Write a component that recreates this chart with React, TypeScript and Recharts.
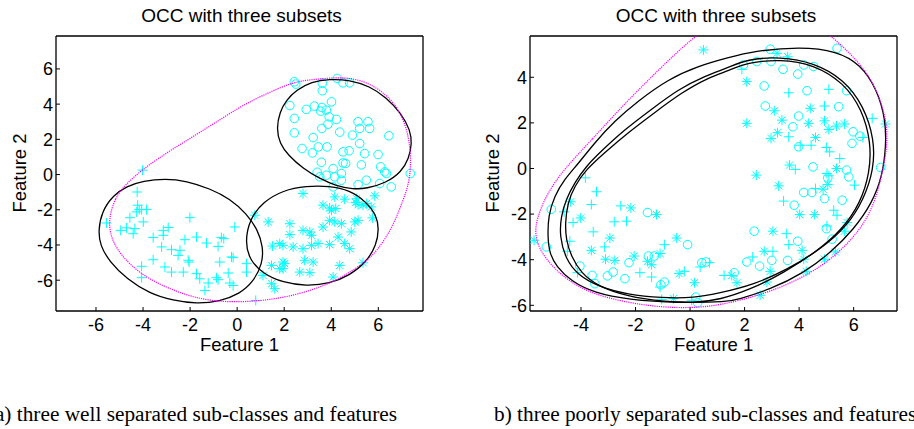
import { Scatter, ScatterChart, XAxis, YAxis } from "recharts";

type P = [number, number];

// ---------- panel a) well separated ----------
const aCircles: P[] = [
  [2.43, 5.27], [2.49, 5.14], [4.25, 5.46], [3.62, 5.18], [4.5, 5.21], [4.78, 5.21],
  [3.62, 4.76], [4.01, 4.13], [2.24, 3.92], [2.94, 3.7], [3.28, 3.89], [3.6, 3.81],
  [3.55, 3.6], [3.79, 3.66], [3.91, 3.28], [4.22, 3.13], [2.43, 3.19], [3.86, 2.86],
  [3.6, 2.62], [5.14, 3.0], [5.56, 3.0], [5.21, 2.62], [5.63, 2.62], [2.43, 2.37],
  [3.23, 2.1], [4.36, 2.41], [4.9, 2.24], [6.45, 2.2], [3.45, 1.57], [3.82, 1.57],
  [2.76, 1.48], [3.2, 1.23], [5.21, 1.76], [4.5, 1.29], [4.76, 1.35], [5.42, 1.19],
  [5.99, 1.14], [3.58, 0.7], [4.5, 0.66], [4.61, 0.63], [5.28, 0.55], [6.1, 0.44],
  [3.4, 0.13], [4.08, 0.34], [4.43, 0.06], [3.79, -0.04], [4.15, -0.13], [6.27, 0.15],
  [6.34, 0.06], [7.36, 0.06], [4.43, -0.32], [5.14, -0.57], [5.49, -0.32], [6.06, -0.51],
  [6.55, -0.7], [4.08, -0.7], [3.51, -0.13],
];

const aPluses: P[] = [
  [-4.02, 0.25], [-4.25, -0.99], [-5.55, -2.75], [-4.56, -2.45], [-4.23, -1.74], [-4.16, -1.99],
  [-4.06, -1.99], [-3.85, -1.99], [-4.27, -2.12], [-3.99, -2.69], [-4.35, -3.07], [-4.7, -3.03],
  [-4.95, -3.17], [-4.42, -3.36], [-3.57, -3.58], [-3.14, -3.17], [-2.93, -3.01], [-3.14, -3.45],
  [-3.21, -4.11], [-2.79, -4.27], [-2.43, -4.3], [-2.51, -4.59], [-2.22, -3.7], [-2.01, -2.45],
  [-1.73, -3.55], [-1.3, -3.89], [-0.81, -4.08], [-0.67, -3.58], [-0.57, -3.64], [-0.1, -2.98],
  [-0.24, -4.68], [-0.17, -4.72], [-2.08, -4.87], [-2.04, -4.97], [-3.57, -4.84], [-4.06, -5.21],
  [-3.07, -5.25], [-2.79, -5.54], [-2.29, -5.54], [-1.73, -5.63], [-1.59, -5.92], [-1.37, -6.58],
  [-1.23, -6.16], [-0.88, -5.86], [-0.81, -5.97], [-0.74, -4.97], [-0.38, -5.59], [-0.31, -6.16],
  [-0.17, -6.3], [0.4, -5.54], [0.4, -5.06], [-4.06, -5.86], [0.79, -7.15],
];

const aStars: P[] = [
  [2.8, -1.08], [4.15, -1.27], [4.57, -1.4], [5.07, -1.37], [5.04, -1.59], [5.14, -1.71],
  [5.35, -1.74], [5.49, -1.65], [5.7, -1.84], [5.85, -1.21], [3.65, -1.74], [3.93, -1.9],
  [4.01, -2.03], [4.19, -1.93], [5.75, -2.46], [5.14, -2.6], [5.0, -2.69], [4.85, -3.26],
  [3.93, -2.6], [4.15, -2.69], [4.43, -2.79], [3.65, -2.98], [2.8, -3.17], [3.09, -3.26],
  [3.16, -3.45], [2.24, -2.79], [1.32, -2.69], [2.24, -3.41], [1.5, -4.06], [1.81, -3.92],
  [1.95, -4.02], [2.38, -4.11], [2.8, -4.21], [3.16, -4.02], [3.44, -3.92], [3.93, -3.98],
  [4.29, -3.55], [4.57, -3.92], [4.78, -4.21], [2.87, -4.87], [3.23, -4.97], [4.36, -5.16],
  [5.35, -5.01], [1.46, -5.16], [1.95, -4.97], [2.02, -5.06], [1.81, -5.35], [2.66, -5.54],
  [3.09, -5.57], [4.08, -5.82], [1.46, -6.2], [1.6, -6.48], [1.1, -5.73], [1.95, -5.35],
  [0.75, -2.31],
];

// black class boundaries, outline points
const aBoundCircles: P[] = [
  [1.67, 2.62], [1.81, 3.56], [2.09, 4.23], [2.52, 4.8], [3.16, 5.27], [3.93, 5.42],
  [4.78, 5.37], [5.63, 5.02], [6.34, 4.38], [6.98, 3.47], [7.36, 2.52], [7.43, 1.76],
  [7.3, 0.91], [6.98, 0.15], [6.34, -0.47], [5.49, -0.8], [4.93, -0.83], [4.22, -0.66],
  [3.51, -0.23], [2.8, 0.34], [2.17, 1.1], [1.81, 1.76],
];
const aBoundPluses: P[] = [
  [-5.9, -3.17], [-5.76, -2.12], [-5.27, -1.18], [-4.7, -0.66], [-3.99, -0.36], [-3.07, -0.23],
  [-2.15, -0.36], [-1.16, -0.8], [-0.31, -1.37], [0.4, -2.22], [0.89, -3.17], [1.1, -4.11],
  [1.08, -5.06], [0.68, -6.11], [0.11, -6.77], [-0.74, -7.21], [-1.73, -7.34], [-2.72, -7.15],
  [-3.71, -6.77], [-4.7, -5.92], [-5.41, -4.97], [-5.83, -4.02],
];
const aBoundStars: P[] = [
  [0.33, -3.83], [0.54, -2.5], [1.1, -1.56], [1.95, -0.89], [2.94, -0.65], [3.93, -0.65],
  [4.78, -0.89], [5.49, -1.55], [5.92, -2.31], [6.03, -3.07], [5.92, -4.02], [5.49, -4.97],
  [4.78, -5.73], [3.93, -6.2], [2.94, -6.33], [1.95, -6.14], [1.1, -5.63], [0.54, -4.87],
];
const aOcc: P[] = [
  [-5.55, -2.88], [-5.19, -1.27], [-4.7, -0.51], [-3.99, 0.34], [-2.72, 1.48], [-1.3, 2.62],
  [0.11, 3.85], [1.1, 4.51], [2.38, 5.27], [3.23, 5.4], [4.22, 5.52], [4.93, 5.46],
  [5.63, 5.18], [6.48, 4.42], [7.05, 3.28], [7.33, 1.95], [7.4, 0.44], [7.26, -0.7],
  [7.05, -1.46], [6.62, -2.98], [5.92, -4.4], [5.35, -5.06], [4.64, -5.67], [3.93, -6.2],
  [2.52, -6.86], [0.82, -7.24], [-1.16, -7.24], [-2.58, -6.67], [-3.99, -5.82], [-5.12, -4.4],
];

const aXTicks = [-6, -4, -2, 0, 2, 4, 6];
const aYTicks = [-6, -4, -2, 0, 2, 4, 6];

// ---------- panel b) poorly separated ----------
const bCircles: P[] = [
  [2.94, 5.23], [1.96, 4.54], [2.45, 4.69], [2.97, 4.69], [3.41, 4.35], [3.95, 4.14],
  [4.17, 4.54], [4.53, 4.47], [5.39, 5.27], [2.72, 3.62], [4.29, 3.41], [5.74, 3.41],
  [2.76, 2.74], [5.45, 2.71], [3.98, 2.3], [3.77, 1.83], [5.98, 1.61], [6.23, 1.42],
  [5.94, 1.1], [3.98, 0.95], [4.51, 0.07], [5.74, -0.07], [6.99, 0.04], [5.05, -0.41],
  [5.82, -0.37], [4.17, -1.05], [4.47, -1.05], [4.93, -1.32], [5.58, -1.39], [3.82, -1.61],
  [2.35, -2.75], [5.0, -2.64], [3.95, -3.19], [5.21, -3.1], [2.08, -4.1], [2.55, -4.28],
  [3.0, -4.03], [3.58, -4.03], [1.62, -4.57], [0.59, -4.1], [-5.09, -1.79], [-1.56, -1.93],
  [-5.27, -3.44], [-0.09, -3.34], [-1.53, -3.84], [-1.31, -3.84], [-2.24, -4.13], [-4.04, -4.28],
  [-3.59, -4.69], [-3.03, -4.71], [-2.82, -4.54], [-2.39, -4.83], [-3.49, -5.05], [-1.07, -5.1],
  [-0.94, -4.98], [0.43, -4.13], [0.21, -5.64], [0.28, -5.89],
];

const bPluses: P[] = [
  [1.9, 4.35], [3.62, 3.32], [5.09, 3.47], [4.93, 2.74], [6.68, 2.2], [3.62, 1.39],
  [6.34, 1.36], [4.04, 1.02], [4.44, 1.02], [5.0, 0.92], [5.12, 0.73], [5.49, 0.44],
  [3.86, -0.04], [5.02, -0.22], [5.09, -0.32], [6.03, -0.73], [4.6, -0.88], [3.43, -1.43],
  [5.27, -1.83], [5.39, -2.05], [3.53, -2.86], [5.02, -2.52], [3.62, -3.34], [3.04, -3.63],
  [2.3, -3.88], [1.25, -4.69], [0.71, -4.13], [-3.84, -0.41], [-3.43, -1.02], [-3.62, -1.58],
  [-2.54, -1.64], [-4.62, -1.9], [-4.29, -2.37], [-2.78, -2.34], [-2.33, -2.31], [-3.55, -2.78],
  [-4.41, -3.19], [-3.13, -3.44], [-4.5, -3.63], [-4.13, -4.57], [-1.84, -4.57], [-1.41, -4.76],
  [-1.1, -5.2], [-0.21, -4.51], [0.37, -4.32], [-1.04, -5.74], [0.06, -5.78], [-0.94, -3.34],
];

const bStars: P[] = [
  [0.49, 5.2], [3.19, 5.05], [3.58, 4.9], [2.08, 3.81], [3.09, 2.53], [4.41, 2.64],
  [3.37, 2.12], [2.08, 1.98], [4.35, 1.98], [4.93, 2.09], [5.09, 1.71], [5.37, 1.86],
  [5.66, 1.95], [7.17, 1.95], [3.21, 1.57], [2.97, 1.32], [4.6, 1.36], [3.65, 0.15],
  [5.37, 0.0], [2.43, -0.29], [3.25, -0.76], [5.05, -0.7], [4.88, -0.91], [4.02, -2.02],
  [4.56, -2.02], [3.04, -2.75], [4.11, -3.59], [5.76, -2.37], [5.66, -2.75], [4.17, -3.98],
  [2.94, -4.51], [1.53, -4.69], [1.72, -5.01], [2.82, -4.98], [4.26, -4.51], [4.93, -3.98],
  [5.33, -3.66], [2.57, -5.56], [2.72, -3.63], [-4.38, -1.46], [-2.17, -1.73], [-1.23, -2.02],
  [-4.01, -2.17], [-5.72, -3.15], [-2.94, -3.05], [-3.62, -3.59], [-0.49, -3.05], [-3.1, -3.98],
  [-2.76, -4.03], [-2.05, -3.84], [-1.1, -3.73], [-1.56, -4.07], [-1.41, -4.22], [-0.4, -4.61],
  [0.16, -5.01], [-0.61, -5.71],
];

const bBoundOuter: P[] = [
  [-5.22, -2.98], [-5.2, -2.09], [-4.98, -1.22], [-4.61, -0.48], [-4.12, 0.18], [-3.5, 1.13],
  [-2.77, 2.08], [-1.91, 2.96], [-0.81, 3.91], [0.29, 4.49], [1.4, 4.86], [2.33, 5.15],
  [4.04, 5.34], [5.39, 5.15], [6.25, 4.57], [6.86, 3.47], [7.17, 2.15], [7.19, 0.98],
  [7.05, -0.34], [6.68, -1.51], [6.0, -2.68], [5.15, -3.7], [4.17, -4.58], [2.94, -5.31],
  [1.72, -5.75], [1.4, -5.85], [-0.44, -5.9], [-2.28, -5.75], [-3.5, -5.46], [-4.36, -4.95],
  [-4.91, -4.29], [-5.16, -3.7],
];
const bBoundMid: P[] = [
  [-4.79, -2.97], [-4.73, -2.09], [-4.55, -1.36], [-4.24, -0.63], [-3.81, 0.1], [-3.26, 0.76],
  [-2.4, 1.71], [-1.42, 2.59], [-0.44, 3.47], [0.54, 4.06], [1.4, 4.42], [2.08, 4.79],
  [3.31, 4.9], [4.53, 4.64], [5.64, 3.91], [6.37, 2.74], [6.76, 1.27], [6.74, -0.04],
  [6.37, -1.36], [5.76, -2.53], [4.78, -3.56], [3.55, -4.44], [2.33, -5.1], [1.1, -5.46],
  [0.17, -5.68], [-1.05, -5.68], [-2.28, -5.53], [-3.38, -5.17], [-4.12, -4.66], [-4.55, -4.0],
];
const bBoundInner: P[] = [
  [-4.58, -2.39], [-4.49, -1.51], [-4.24, -0.78], [-3.81, -0.04], [-3.14, 0.69], [-2.28, 1.57],
  [-1.3, 2.45], [-0.32, 3.32], [0.66, 3.98], [1.4, 4.28], [2.08, 4.64], [3.31, 4.79],
  [4.53, 4.57], [5.64, 3.76], [6.31, 2.59], [6.64, 1.13], [6.59, -0.19], [6.25, -1.51],
  [5.58, -2.68], [4.66, -3.63], [3.43, -4.58], [2.21, -5.31], [1.1, -5.75], [0.17, -5.9],
  [-1.05, -5.83], [-2.28, -5.61], [-3.38, -5.17], [-4.0, -4.58], [-4.36, -3.85], [-4.55, -3.12],
];
const bOcc: P[] = [
  [-4.6, 0.0], [-3.62, 1.24], [-2.39, 2.86], [-1.16, 4.32], [0.06, 5.71], [0.99, 6.44],
  [2.22, 6.81], [3.44, 6.84], [4.42, 6.52], [5.21, 5.78], [6.13, 4.76], [6.74, 3.73],
  [7.11, 2.56], [7.23, 1.68], [7.21, 0.81], [7.08, 0.0], [6.86, -1.17], [6.5, -2.2],
  [5.88, -3.21], [4.9, -4.25], [3.8, -4.98], [2.57, -5.56], [1.1, -6.0], [0.06, -6.12],
  [-1.16, -6.08], [-2.39, -5.86], [-3.62, -5.49], [-4.6, -4.83], [-5.33, -3.95], [-5.7, -3.07],
  [-5.64, -2.2], [-5.21, -1.02],
];

const bXTicks = [-4, -2, 0, 2, 4, 6];
const bYTicks = [-6, -4, -2, 0, 2, 4];

const CYAN = "#00ffff";
const SANS = "'Liberation Sans', Arial, sans-serif";
const SERIF = "'Liberation Serif', 'Times New Roman', serif";

const xy = (pts: P[]) => pts.map(([x, y]) => ({ x, y }));

function Plus({ cx, cy }: any) {
  if (cx == null || cy == null) return <g />;
  return (
    <g stroke={CYAN} strokeWidth={1}>
      <line x1={cx - 5} y1={cy} x2={cx + 5} y2={cy} />
      <line x1={cx} y1={cy - 5} x2={cx} y2={cy + 5} />
    </g>
  );
}

function Star({ cx, cy }: any) {
  if (cx == null || cy == null) return <g />;
  const d = 3.6;
  return (
    <g stroke={CYAN} strokeWidth={1}>
      <line x1={cx - 5} y1={cy} x2={cx + 5} y2={cy} />
      <line x1={cx} y1={cy - 5} x2={cx} y2={cy + 5} />
      <line x1={cx - d} y1={cy - d} x2={cx + d} y2={cy + d} />
      <line x1={cx - d} y1={cy + d} x2={cx + d} y2={cy - d} />
    </g>
  );
}

function Ring({ cx, cy }: any) {
  if (cx == null || cy == null) return <g />;
  return <circle cx={cx} cy={cy} r={4.3} fill="none" stroke={CYAN} strokeWidth={1} />;
}

const Nothing = () => <g />;

type PanelProps = {
  yWidth: number;
  right: number;
  xDomain: [number, number];
  yDomain: [number, number];
  xTicks: number[];
  yTicks: number[];
  circles: P[];
  pluses: P[];
  stars: P[];
  bounds: P[][];
  occ: P[];
};

function Panel(p: PanelProps) {
  const tick = { fill: "#000", fontSize: 18, fontFamily: SANS };
  const axisLine = { stroke: "#000", strokeWidth: 1.3 };
  return (
    <ScatterChart width={457} height={345} margin={{ top: 36, right: p.right, bottom: 0, left: 0 }}>
      <XAxis
        xAxisId="b"
        type="number"
        dataKey="x"
        domain={p.xDomain}
        ticks={p.xTicks}
        interval={0}
        allowDataOverflow
        height={34}
        axisLine={axisLine}
        tickLine={{ stroke: "#000" }}
        tickSize={-4}
        tickMargin={11}
        tick={tick}
      />
      <XAxis
        xAxisId="t"
        orientation="top"
        mirror
        type="number"
        dataKey="x"
        domain={p.xDomain}
        ticks={p.xTicks}
        interval={0}
        allowDataOverflow
        axisLine={axisLine}
        tickLine={{ stroke: "#000" }}
        tickSize={4}
        tick={false}
      />
      <YAxis
        yAxisId="l"
        type="number"
        dataKey="y"
        domain={p.yDomain}
        ticks={p.yTicks}
        interval={0}
        allowDataOverflow
        width={p.yWidth}
        axisLine={axisLine}
        tickLine={{ stroke: "#000" }}
        tickSize={-4}
        tickMargin={7}
        tick={tick}
      />
      <YAxis
        yAxisId="r"
        orientation="right"
        mirror
        type="number"
        dataKey="y"
        domain={p.yDomain}
        ticks={p.yTicks}
        interval={0}
        allowDataOverflow
        axisLine={axisLine}
        tickLine={{ stroke: "#000" }}
        tickSize={4}
        tick={false}
      />
      <Scatter xAxisId="b" yAxisId="l" data={xy(p.circles)} shape={Ring} isAnimationActive={false} />
      <Scatter xAxisId="b" yAxisId="l" data={xy(p.pluses)} shape={Plus} isAnimationActive={false} />
      <Scatter xAxisId="b" yAxisId="l" data={xy(p.stars)} shape={Star} isAnimationActive={false} />
      {p.bounds.map((b, i) => (
        <Scatter
          key={i}
          xAxisId="b"
          yAxisId="l"
          data={xy(b)}
          shape={Nothing}
          line={{ stroke: "#000", strokeWidth: 1.3, fill: "none" }}
          lineType="joint"
          lineJointType="basisClosed"
          isAnimationActive={false}
        />
      ))}
      <Scatter
        xAxisId="t"
        yAxisId="r"
        data={xy(p.occ)}
        shape={Nothing}
        line={{ stroke: "#ff00ff", strokeWidth: 1.2, strokeDasharray: "1.2 1", fill: "none" }}
        lineType="joint"
        lineJointType="basisClosed"
        isAnimationActive={false}
      />
    </ScatterChart>
  );
}

function Txt({ x, y, size, font, children, rotate, align = "center" }: any) {
  const shift = align === "center" ? "-50%" : align === "right" ? "-100%" : "0";
  const base: any = {
    position: "absolute",
    whiteSpace: "nowrap",
    fontSize: size,
    lineHeight: `${size}px`,
    fontFamily: font,
    color: "#000",
  };
  if (rotate) {
    return (
      <div
        style={{
          ...base,
          left: x,
          top: y,
          transform: "translate(-50%, -50%) rotate(-90deg)",
        }}
      >
        {children}
      </div>
    );
  }
  const k = font === SERIF ? 0.8375 : 0.8465;
  return (
    <div style={{ ...base, left: x, top: y - size * k, transform: `translateX(${shift})` }}>{children}</div>
  );
}

export default function App() {
  return (
    <div
      style={{
        position: "absolute",
        left: 0,
        top: 0,
        width: 914,
        height: 429,
        overflow: "hidden",
        background: "#fff",
      }}
    >
      <div style={{ position: "absolute", left: 0, top: 0 }}>
        <Panel
          yWidth={56}
          right={34}
          xDomain={[-7.7, 7.9]}
          yDomain={[-7.75, 7.87]}
          xTicks={aXTicks}
          yTicks={aYTicks}
          circles={aCircles}
          pluses={aPluses}
          stars={aStars}
          bounds={[aBoundCircles, aBoundPluses, aBoundStars]}
          occ={aOcc}
        />
      </div>
      <div style={{ position: "absolute", left: 457, top: 0 }}>
        <Panel
          yWidth={73}
          right={17}
          xDomain={[-5.87, 7.59]}
          yDomain={[-6.25, 5.81]}
          xTicks={bXTicks}
          yTicks={bYTicks}
          circles={bCircles}
          pluses={bPluses}
          stars={bStars}
          bounds={[bBoundOuter, bBoundMid, bBoundInner]}
          occ={bOcc}
        />
      </div>

      <Txt x={241.5} y={22} size={19} font={SANS}>OCC with three subsets</Txt>
      <Txt x={716} y={22} size={19} font={SANS}>OCC with three subsets</Txt>
      <Txt x={239.5} y={351.5} size={18.5} font={SANS}>Feature 1</Txt>
      <Txt x={713.7} y={351.5} size={18.5} font={SANS}>Feature 1</Txt>
      <Txt x={19.6} y={172.5} size={18.5} font={SANS} rotate>Feature 2</Txt>
      <Txt x={493.3} y={172.5} size={18.5} font={SANS} rotate>Feature 2</Txt>
      <Txt x={397} y={422} size={21.3} font={SERIF} align="right">
        a) three well separated sub-classes and features
      </Txt>
      <Txt x={494} y={422} size={21.3} font={SERIF} align="left">
        b) three poorly separated sub-classes and features
      </Txt>
    </div>
  );
}
